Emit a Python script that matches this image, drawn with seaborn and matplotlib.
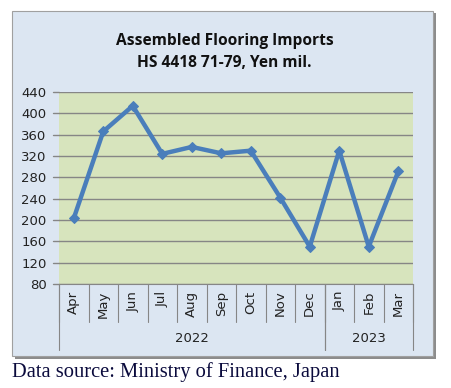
import matplotlib
matplotlib.use("Agg")
import matplotlib.pyplot as plt
from matplotlib.patches import Rectangle
from matplotlib.lines import Line2D
import seaborn as sns
import pandas as pd

months = ["Apr", "May", "Jun", "Jul", "Aug", "Sep", "Oct", "Nov", "Dec", "Jan", "Feb", "Mar"]
imports = [203, 366, 414, 324, 337, 325, 330, 242, 150, 330, 150, 291]
years = ["2022", "2023"]
months_per_year = [9, 3]
yticks = [80, 120, 160, 200, 240, 280, 320, 360, 400, 440]

df = pd.DataFrame({"month": months, "value": imports, "pos": range(len(months))})

sns.set_style("white")
plt.rcParams["font.family"] = ["DejaVu Sans"]

W, H = 451, 388
fig = plt.figure(figsize=(W / 100, H / 100), dpi=100)
fig.patch.set_facecolor("white")

# outer chart frame with shadow
fig.patches.append(Rectangle((15 / W, 1 - 359 / H), 421 / W, 346 / H, transform=fig.transFigure,
                             facecolor="#8c8c8c", edgecolor="none", zorder=-2))
fig.patches.append(Rectangle((12 / W, 1 - 356 / H), 421 / W, 345 / H, transform=fig.transFigure,
                             facecolor="#dce6f2", edgecolor="#a0a0a0", linewidth=0.8, zorder=-1))

ax = fig.add_axes([59 / W, 1 - 284 / H, (413 - 59) / W, (284 - 92) / H])
ax.set_facecolor("#d7e4bd")

sns.lineplot(data=df, x="pos", y="value", ax=ax, color="#4a7ebb", linewidth=3.2,
             marker="D", markersize=5, markeredgecolor="#4a7ebb", zorder=3)

ax.set_xlim(-0.5, len(months) - 0.5)
ax.set_ylim(80, 440)
ax.set_yticks(yticks)
ax.set_yticklabels([str(v) for v in yticks], fontsize=9.5, color="#222222")
ax.tick_params(axis="y", length=0, pad=9)
ax.yaxis.grid(True, color="#868686", linewidth=1)
ax.set_xticks([])
ax.set_xlabel("")
ax.set_ylabel("")
for s in ["top", "right", "left"]:
    ax.spines[s].set_visible(False)
ax.spines["bottom"].set_color("#868686")

# small outside tick marks on y axis
for v in yticks:
    ax.add_line(Line2D([-0.7, -0.5], [v, v], color="#868686", linewidth=1, clip_on=False))

# month labels and separators
trans = ax.get_xaxis_transform()
for i, m in enumerate(months):
    ax.text(i, -0.035, m, rotation=90, ha="center", va="top", fontsize=9.5,
            color="#222222", transform=trans)
for i in range(len(months) + 1):
    ax.add_line(Line2D([i - 0.5, i - 0.5], [0, -0.2], color="#868686", linewidth=0.8,
                       transform=trans, clip_on=False))

# year group labels and separators
start = 0
for yr, n in zip(years, months_per_year):
    ax.text(start + n / 2 - 0.5, -0.285, yr, ha="center", va="center", fontsize=9.5,
            color="#222222", transform=trans)
    for b in (start, start + n):
        ax.add_line(Line2D([b - 0.5, b - 0.5], [0, -0.345], color="#868686", linewidth=0.8,
                           transform=trans, clip_on=False))
    start += n

fig.text(0.5 - 1 / W, 1 - 52 / H, "Assembled Flooring Imports\nHS 4418 71-79, Yen mil.",
         ha="center", va="center", fontsize=11.2, fontweight="bold", family="Open Sans",
         linespacing=1.45, color="#111111")

fig.text(12 / W, 1 - 372 / H, "Data source: Ministry of Finance, Japan", ha="left", va="center",
         fontsize=14.8, family="Liberation Serif", color="#0a0a3c")

fig.savefig("out.png", dpi=100)
